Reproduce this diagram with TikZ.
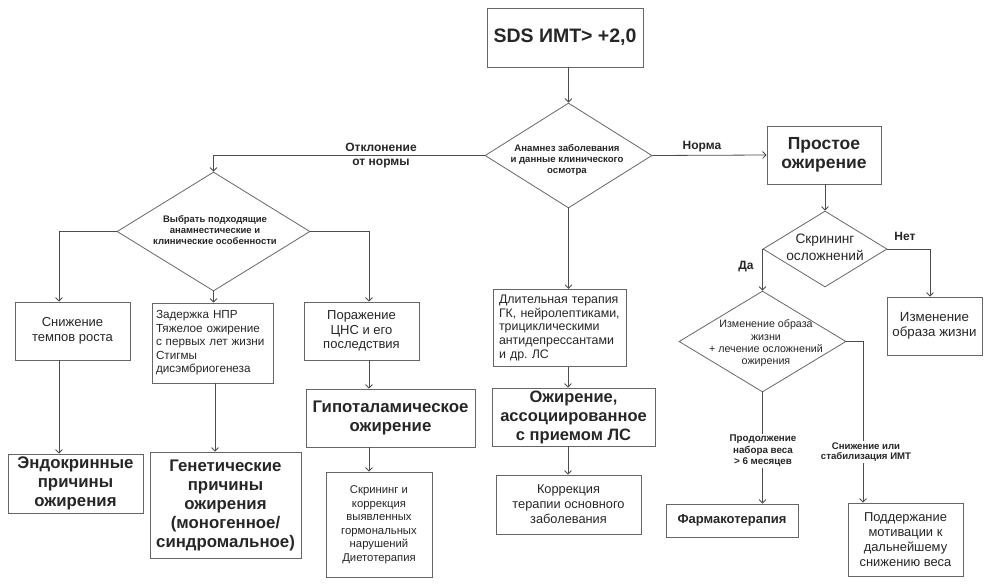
\documentclass[tikz,border=0pt]{standalone}
\usepackage{fontspec}
\setmainfont{Liberation Sans}
\usetikzlibrary{shapes.geometric,arrows.meta}
\newcommand{\fs}[2]{\fontsize{#1}{#2}\selectfont}
\frenchspacing
\begin{document}
\begin{tikzpicture}[x=1pt,y=-1pt,
  box/.style={draw=black!60,line width=0.8pt,inner sep=2pt,align=center,text=black!85},
  dia/.style={draw=black!60,line width=0.8pt,diamond,inner sep=0pt},
  dtext/.style={align=center,inner sep=0pt,text=black!85},
  arr/.style={draw=black!70,line width=0.8pt,-{Straight Barb[length=3.5pt,width=7pt]}},
  lbl/.style={font=\bfseries\fs{12}{14},align=center,text=black!85}]
\useasboundingbox (0,0) rectangle (989,584);
\coordinate (colA) at (59,0);
\coordinate (colB) at (215,0);
\coordinate (colC) at (369,0);
\coordinate (colD) at (568,0);
\coordinate (colE) at (930,0);
\coordinate (colF) at (764,0);
\coordinate (colG) at (863,0);
\node[box,minimum width=156pt,minimum height=59pt,font=\bfseries\fs{19.5}{22}] (imt) at (565,37.5) {SDS ИМТ> +2,0};
\node[dia,minimum width=167pt,minimum height=105pt] (anam) at (568.5,155.5) {};
\node[dtext,font=\bfseries\fs{9.6}{11}] (anamt) at (567,160) {Анамнез заболевания\\и данные клинического\\осмотра};
\node[dia,minimum width=193pt,minimum height=119pt] (vybor) at (213.5,231.5) {};
\node[dtext,font=\bfseries\fs{9.5}{11}] (vybort) at (215,230) {Выбрать подходящие\\анамнестические и\\клинические особенности};
\node[box,minimum width=115pt,minimum height=58pt,font=\fs{13}{15}] (snizh) at (72.5,331) {Снижение\\темпов роста};
\node[box,text width=113pt,inner sep=4pt,minimum height=80pt,align=left,font=\fs{11.7}{13.5}] (zader) at (212.5,343) {Задержка НПР\\Тяжелое ожирение\\с первых лет жизни\\Стигмы\\дисэмбриогенеза};
\node[box,minimum width=115pt,minimum height=58pt,font=\fs{13}{14.5}] (porazh) at (361.5,331) {Поражение\\ЦНС и его\\последствия};
\node[box,minimum width=169pt,minimum height=58pt,font=\bfseries\fs{16.8}{19}] (gipo) at (390.5,418) {Гипоталамическое\\ожирение};
\node[box,minimum width=135pt,minimum height=59pt,font=\bfseries\fs{16.8}{19}] (endo) at (75.5,483.5) {Эндокринные\\причины\\ожирения};
\node[box,minimum width=151pt,minimum height=106pt,font=\bfseries\fs{16.8}{19}] (gen) at (225.5,505) {Генетические\\причины\\ожирения\\(моногенное/\\синдромальное)};
\node[box,minimum width=106pt,minimum height=105pt,font=\fs{11.3}{13.5}] (skr) at (379,524.5) {Скрининг и\\коррекция\\выявленных\\гормональных\\нарушений\\Диетотерапия};
\node[box,text width=121pt,inner sep=6pt,minimum height=72pt,align=left,font=\fs{12.4}{13.6}] (ls) at (559.5,328) {Длительная терапия\\ГК, нейролептиками,\\трициклическими\\антидепрессантами\\и др. ЛС};
\node[box,minimum width=163pt,minimum height=58pt,font=\bfseries\fs{16.5}{19}] (assoc) at (573.5,417) {Ожирение,\\ассоциированное\\с приемом ЛС};
\node[box,minimum width=145pt,minimum height=59pt,font=\fs{12.8}{15}] (korr) at (568.5,504.5) {Коррекция\\терапии основного\\заболевания};
\node[box,minimum width=114pt,minimum height=58pt,font=\bfseries\fs{17.5}{19}] (prost) at (824,155) {Простое\\ожирение};
\node[dia,minimum width=124pt,minimum height=76pt] (skrin) at (825,249) {};
\node[dtext,font=\fs{13.7}{16.5}] (skrint) at (825,247.5) {Скрининг\\осложнений};
\node[box,minimum width=95pt,minimum height=58pt,font=\fs{13.3}{15}] (zhizn) at (934.5,326) {Изменение\\образа жизни};
\node[dia,minimum width=167pt,minimum height=101pt] (obraz) at (762.5,341.5) {};
\node[dtext,font=\fs{10.7}{12.3}] (obrazt) at (766,343.5) {Изменение образа\\жизни\\+ лечение осложнений\\ожирения};
\node[box,minimum width=132pt,minimum height=33pt,font=\bfseries\fs{13}{14}] (farm) at (732,520.5) {Фармакотерапия};
\node[box,minimum width=115pt,minimum height=73pt,font=\fs{12.9}{15}] (podd) at (905.5,539.5) {Поддержание\\мотивации к\\дальнейшему\\снижению веса};
\draw[arr] (anam.north |- imt.south) -- (anam.north);
\draw[arr] (anam.west) -| (vybor.north);
\draw[arr] (anam.east) -- (prost.west);
\draw[arr] (anam.south) -- (anam.south |- ls.north);
\draw[arr] (vybor.west) -| (colA |- snizh.north);
\draw[arr] (vybor.south) -- (vybor.south |- zader.north);
\draw[arr] (vybor.east) -| (colC |- porazh.north);
\draw[arr] (colA |- snizh.south) -- (colA |- endo.north);
\draw[arr] (colB |- zader.south) -- (colB |- gen.north);
\draw[arr] (colC |- porazh.south) -- (colC |- gipo.north);
\draw[arr] (colC |- gipo.south) -- (colC |- skr.north);
\draw[arr] (colD |- ls.south) -- (colD |- assoc.north);
\draw[arr] (colD |- assoc.south) -- (colD |- korr.north);
\draw[arr] (skrin.north |- prost.south) -- (skrin.north);
\draw[arr] (skrin.east) -| (colE |- zhizn.north);
\draw[arr] (skrin.west) -| (obraz.north);
\draw[arr] (obraz.south) -- (obraz.south |- farm.north);
\draw[arr] (obraz.east) -| (colG |- podd.north);
\node[lbl] (otkl) at (381,156) {Отклонение\\от нормы};
\node[lbl] (norma) at (702,147) {Норма};
\node[lbl] (net) at (905,236) {Нет};
\node[lbl] (da) at (746,267) {Да};
\node[lbl,fill=white,inner sep=1pt,font=\bfseries\fs{9.8}{11.5}] (nabor) at (763,451) {Продолжение\\набора веса\\> 6 месяцев};
\node[lbl,fill=white,inner sep=1pt,font=\bfseries\fs{9.6}{10.5}] (stab) at (866,452) {Снижение или\\стабилизация ИМТ};
\end{tikzpicture}
\end{document}
